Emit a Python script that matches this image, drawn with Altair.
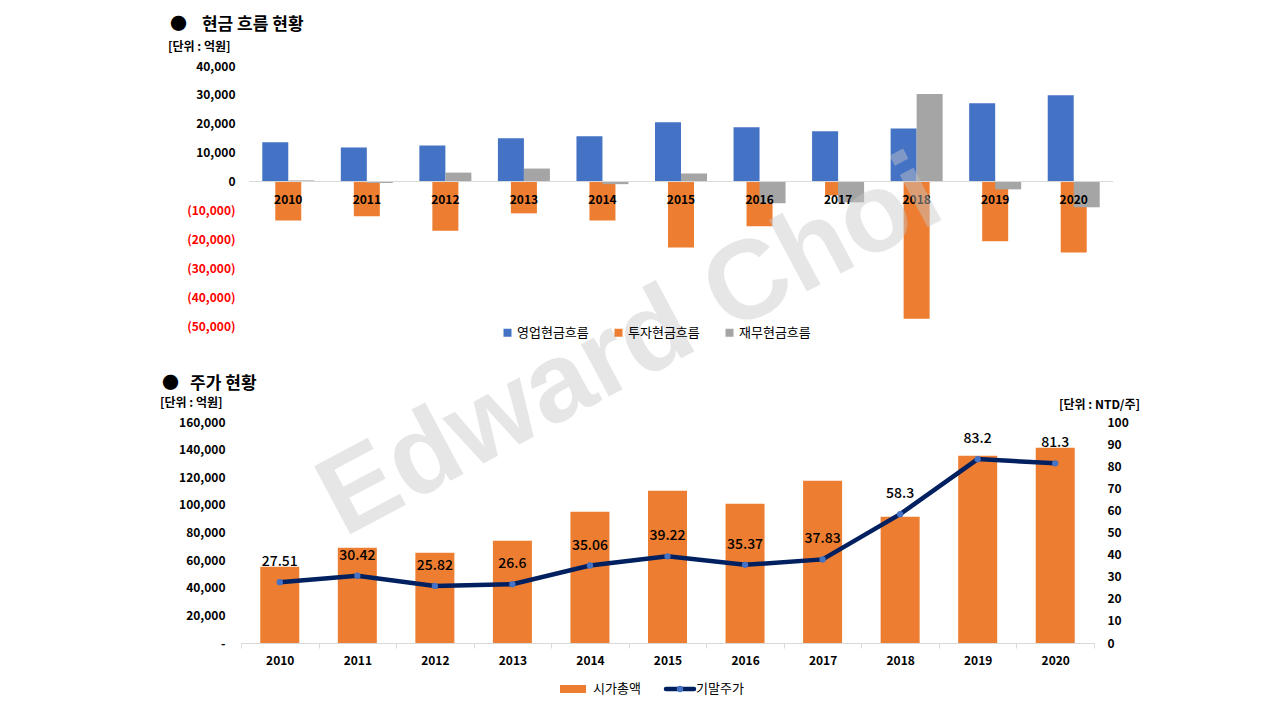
import altair as alt
import pandas as pd

FONT = "Noto Sans CJK KR"
NB = "\u00a0"
TH_SP = "\u2009"

# ---------------- data ----------------
years = ["2010", "2011", "2012", "2013", "2014", "2015", "2016", "2017", "2018", "2019", "2020"]

cf_names = ["영업현금흐름", "투자현금흐름", "재무현금흐름"]
cf_colors = ["#4472C4", "#ED7D31", "#A5A5A5"]
ocf = [13600, 11800, 12500, 15000, 15700, 20500, 18800, 17400, 18400, 27100, 29900]
icf = [-13500, -12000, -17000, -11000, -13500, -22800, -15500, -4800, -47500, -20700, -24600]
fcf = [400, -500, 3100, 4500, -900, 2800, -7500, -7200, 30300, -2700, -8900]

stock_names = ["시가총액", "기말주가"]
mcap = [55200, 69000, 65400, 74000, 95000, 110300, 100800, 117500, 91400, 135600, 141400]
price = [27.51, 30.42, 25.82, 26.6, 35.06, 39.22, 35.37, 37.83, 58.3, 83.2, 81.3]
price_labels = ["27.51", "30.42", "25.82", "26.6", "35.06", "39.22", "35.37", "37.83", "58.3", "83.2", "81.3"]

top_title = "●" + NB * 3 + TH_SP + "현금 흐름 현황"
bottom_title = "●" + NB * 2 + TH_SP + "주가 현황"
unit_won = "[단위 : 억원]"
unit_ntd = "[단위 : NTD/주]"
watermark = "Edward Choi"

# ---------------- tables ----------------
cf_long = pd.DataFrame({
    "year": years * 3,
    "series": [cf_names[0]] * 11 + [cf_names[1]] * 11 + [cf_names[2]] * 11,
    "value": ocf + icf + fcf,
})
st = pd.DataFrame({"year": years, "mcap": mcap, "price": price, "label": price_labels})
one = pd.DataFrame({"k": [0]})

# ---------------- top chart ----------------
TW, TH = 872, 260
x_top = alt.X("year:O", sort=years, axis=None,
              scale=alt.Scale(range=[8, 872], paddingInner=0, paddingOuter=0))
y_top_scale = alt.Scale(domain=[-50000, 40000], nice=False, zero=False)
y_top_axis = alt.Axis(
    values=list(range(-50000, 40001, 10000)),
    labelExpr="datum.value < 0 ? '(' + format(-datum.value, ',') + ')' : format(datum.value, ',')",
    labelColor={"condition": {"test": "datum.value < 0", "value": "#FF0000"}, "value": "#000000"},
    labelFont=FONT, labelFontSize=12, labelFontWeight="bold",
    domain=False, ticks=False, tickSize=0, grid=False, labelPadding=6, title=None,
)
color_top = alt.Color(
    "series:N",
    scale=alt.Scale(domain=cf_names, range=cf_colors),
    legend=alt.Legend(
        orient="none", legendX=260, legendY=260, direction="horizontal", title=None,
        symbolType="square", symbolSize=64, symbolStrokeWidth=0,
        labelFont=FONT, labelFontSize=13, labelColor="#000000",
        labelOffset=3, columnPadding=23, padding=0,
    ),
)
y_top = alt.Y("value:Q", scale=y_top_scale, axis=y_top_axis)

def cf_bar(name, off):
    return alt.Chart(cf_long).transform_filter(
        alt.datum.series == name
    ).mark_bar(size=26, xOffset=off).encode(x=x_top, y=y_top, color=color_top)

bars_ocf = cf_bar(cf_names[0], -13)
bars_icf = cf_bar(cf_names[1], 0)
bars_fcf = cf_bar(cf_names[2], 13)

zero_rule = alt.Chart(one).mark_rule(color="#D9D9D9", strokeWidth=1).encode(
    x=alt.value(8), x2=alt.value(872),
    y=alt.Y(datum=0, scale=y_top_scale, axis=y_top_axis),
)
year_labels_top = alt.Chart(st).mark_text(
    dy=18, font=FONT, fontSize=12, fontWeight="bold", color="#000000", baseline="middle"
).encode(
    x=x_top,
    y=alt.Y(datum=0, scale=y_top_scale, axis=y_top_axis),
    text="year:N",
)

title_top = alt.Chart(one).mark_text(
    align="left", baseline="middle", font=FONT, fontSize=17, fontWeight="bold", color="#000000"
).encode(x=alt.value(-71), y=alt.value(-41), text=alt.value(top_title))
unit_top = alt.Chart(one).mark_text(
    align="left", baseline="middle", font=FONT, fontSize=12, fontWeight="bold", color="#000000"
).encode(x=alt.value(-73), y=alt.value(-19), text=alt.value(unit_won))
anchor = alt.Chart(one).mark_rule(opacity=0, strokeWidth=0).encode(
    x=alt.value(-233), x2=alt.value(-232), y=alt.value(-58)
)

top = alt.layer(
    bars_ocf, bars_icf, bars_fcf, zero_rule, year_labels_top, title_top, unit_top, anchor
).properties(width=TW, height=TH)

# ---------------- bottom chart ----------------
BW, BH = 853, 221
x_bot = alt.X("year:O", sort=years, scale=alt.Scale(paddingInner=0, paddingOuter=0),
              axis=alt.Axis(title=None, labelAngle=0, labelFont=FONT, labelFontSize=12,
                            labelFontWeight="bold", labelColor="#000000",
                            domainColor="#D9D9D9", tickColor="#D9D9D9", tickSize=5,
                            tickBand="extent", labelPadding=7))

bars_mcap = alt.Chart(st).mark_bar(size=39, color="#ED7D31").encode(
    x=x_bot,
    y=alt.Y("mcap:Q", scale=alt.Scale(domain=[0, 160000], nice=False),
            axis=alt.Axis(values=list(range(0, 160001, 20000)),
                          labelExpr="datum.value == 0 ? '-' : format(datum.value, ',')",
                          labelFont=FONT, labelFontSize=12, labelFontWeight="bold",
                          labelColor="#000000", domain=False, ticks=False, tickSize=0,
                          grid=False, labelPadding=16, title=None)),
)

y_price = alt.Y(
    "price:Q", scale=alt.Scale(domain=[0, 100], nice=False),
    axis=alt.Axis(orient="right", values=list(range(0, 101, 10)),
                  labelFont=FONT, labelFontSize=12, labelFontWeight="bold",
                  labelColor="#000000", domain=False, ticks=False, tickSize=0,
                  grid=False, labelPadding=13, title=None),
)
line_price = alt.Chart(st).mark_line(color="#002060", strokeWidth=4.5).encode(x=x_bot, y=y_price)
pts_price = alt.Chart(st).mark_point(filled=True, color="#4472C4", size=40, opacity=1).encode(
    x=x_bot, y=y_price
)
lbl_price = alt.Chart(st).mark_text(
    dy=-20, font=FONT, fontSize=14, fontWeight=500, color="#000000", baseline="middle"
).encode(x=x_bot, y=y_price, text="label:N")

price_group = alt.layer(line_price, pts_price, lbl_price)

title_bot = alt.Chart(one).mark_text(
    align="left", baseline="middle", font=FONT, fontSize=17, fontWeight="bold", color="#000000"
).encode(x=alt.value(-79), y=alt.value(-38), text=alt.value(bottom_title))
unit_bot_l = alt.Chart(one).mark_text(
    align="left", baseline="middle", font=FONT, fontSize=12, fontWeight="bold", color="#000000"
).encode(x=alt.value(-81), y=alt.value(-19), text=alt.value(unit_won))
unit_bot_r = alt.Chart(one).mark_text(
    align="right", baseline="middle", font=FONT, fontSize=12, fontWeight="bold", color="#000000"
).encode(x=alt.value(899), y=alt.value(-17), text=alt.value(unit_ntd))

# manual legend for the combo chart
leg_rect = alt.Chart(one).mark_rect(color="#ED7D31").encode(
    x=alt.value(319), x2=alt.value(345), y=alt.value(263), y2=alt.value(271)
)
leg_text1 = alt.Chart(one).mark_text(
    align="left", baseline="middle", font=FONT, fontSize=13, color="#000000"
).encode(x=alt.value(352), y=alt.value(267), text=alt.value(stock_names[0]))
leg_line = alt.Chart(one).mark_rule(color="#002060", strokeWidth=4.5, strokeCap="round").encode(
    x=alt.value(425), x2=alt.value(453), y=alt.value(267)
)
leg_pt = alt.Chart(one).mark_point(filled=True, color="#4472C4", size=40, opacity=1).encode(
    x=alt.value(439), y=alt.value(267)
)
leg_text2 = alt.Chart(one).mark_text(
    align="left", baseline="middle", font=FONT, fontSize=13, color="#000000"
).encode(x=alt.value(455), y=alt.value(267), text=alt.value(stock_names[1]))

wm = alt.Chart(one).mark_text(
    angle=332, font="Liberation Sans", fontSize=112, fontWeight="bold",
    color="#C8C8C8", opacity=0.45, align="center", baseline="alphabetic"
).encode(x=alt.value(405), y=alt.value(-45), text=alt.value(watermark))

bottom = alt.layer(
    bars_mcap, price_group, title_bot, unit_bot_l, unit_bot_r,
    leg_rect, leg_text1, leg_line, leg_pt, leg_text2, wm
).resolve_scale(y="independent").properties(width=BW, height=BH)

chart = alt.vconcat(top, bottom, spacing=96, bounds="flush").properties(
    padding=0
).configure(font=FONT).configure_view(stroke=None)

chart.save("out.html", embed_options={"renderer": "svg", "actions": False})
